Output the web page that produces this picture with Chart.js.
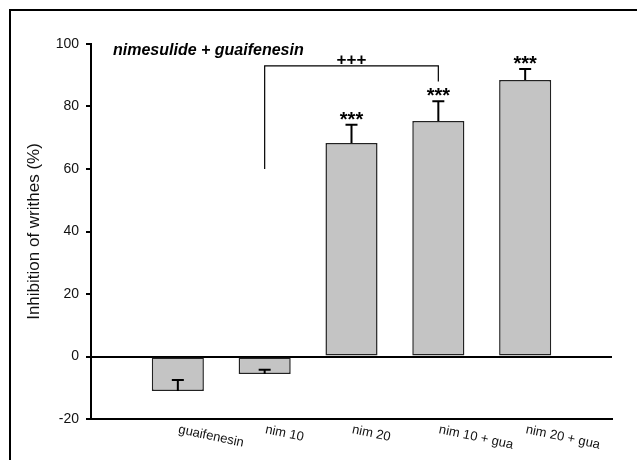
<!DOCTYPE html>
<html>
<head>
<meta charset="utf-8">
<script src="https://cdn.jsdelivr.net/npm/chart.js@4.4.1/dist/chart.umd.min.js"></script>
<style>
    html, body { margin: 0; padding: 0; background: #fff; }
    #wrap { position: relative; width: 637px; height: 460px; overflow: hidden; }
    #frame { position: absolute; left: 9px; top: 9px; width: 700px; height: 500px;
             border-left: 2px solid #000; border-top: 2px solid #000; }
    #c { position: absolute; left: 0; top: 0; }
</style>
</head>
<body>
<div id="wrap">
    <div id="frame"></div>
    <canvas id="c" width="637" height="460"></canvas>
</div>
<script>
// empty slots at both ends keep the bars one category in from the axes
var categories = ['', 'guaifenesin', 'nim 10', 'nim 20', 'nim 10 + gua', 'nim 20 + gua', ''];
var means = [null, -11, -5.6, 68.3, 75.4, 88.5, null];
var sems = [null, 3.5, 1.4, 5.9, 6.3, 3.5, null];
var stars = ['', '', '', '***', '***', '***', ''];
var yTicks = [-20, 0, 20, 40, 60, 80, 100];

// comparison bracket: nim 10 vs nim 10 + gua
var bracketIdx = [2, 4];
var bracketY = [60, 93, 88]; // left end, top, right end
var bracketLabel = '+++';
var panelTitle = 'nimesulide + guaifenesin';

var FONT = '"Liberation Sans", Arial, sans-serif';

var extras = {
    id: 'extras',
    afterDatasetsDraw: function (chart) {
        var ctx = chart.ctx;
        var x = chart.scales.x;
        var y = chart.scales.y;
        ctx.save();

        // error bars + stars
        ctx.strokeStyle = '#000';
        ctx.fillStyle = '#000';
        ctx.lineWidth = 2;
        means.forEach(function (m, i) {
            if (m === null) {
                return;
            }
            var cx = x.getPixelForValue(i);
            var y0 = y.getPixelForValue(m);
            var y1 = y.getPixelForValue(m + sems[i]);
            ctx.beginPath();
            ctx.moveTo(cx, y0);
            ctx.lineTo(cx, y1);
            ctx.moveTo(cx - 6, y1);
            ctx.lineTo(cx + 6, y1);
            ctx.stroke();
            if (stars[i]) {
                ctx.font = 'bold 20px ' + FONT;
                ctx.textAlign = 'center';
                ctx.textBaseline = 'alphabetic';
                ctx.fillText(stars[i], cx, y1 + 1);
            }
        });

        // bracket
        var bx0 = x.getPixelForValue(bracketIdx[0]);
        var bx1 = x.getPixelForValue(bracketIdx[1]);
        var by = y.getPixelForValue(bracketY[1]);
        ctx.lineWidth = 1.2;
        ctx.beginPath();
        ctx.moveTo(bx0, y.getPixelForValue(bracketY[0]));
        ctx.lineTo(bx0, by);
        ctx.lineTo(bx1, by);
        ctx.lineTo(bx1, y.getPixelForValue(bracketY[2]));
        ctx.stroke();
        ctx.font = 'bold 17px ' + FONT;
        ctx.textAlign = 'center';
        ctx.fillText(bracketLabel, (bx0 + bx1) / 2, by - 1);

        // panel title
        ctx.font = 'italic bold 16px ' + FONT;
        ctx.textAlign = 'left';
        ctx.textBaseline = 'middle';
        ctx.fillText(panelTitle, chart.chartArea.left + 22, chart.chartArea.top + 7);

        // slanted category labels
        ctx.font = '13px ' + FONT;
        ctx.fillStyle = '#111';
        ctx.textBaseline = 'alphabetic';
        categories.forEach(function (c, i) {
            if (!c) {
                return;
            }
            ctx.save();
            ctx.translate(x.getPixelForValue(i), chart.chartArea.bottom + 14);
            ctx.rotate(12 * Math.PI / 180);
            ctx.fillText(c, 0, 0);
            ctx.restore();
        });

        ctx.restore();
    }
};

new Chart(document.getElementById('c'), {
    type: 'bar',
    data: {
        labels: categories,
        datasets: [{
            data: means,
            backgroundColor: '#c4c4c4',
            borderColor: '#222',
            borderWidth: 1.5,
            borderSkipped: false,
            categoryPercentage: 1,
            barPercentage: 0.6
        }]
    },
    options: {
        responsive: false,
        animation: false,
        layout: {
            padding: { left: 0, top: 44, right: 25, bottom: 41 }
        },
        scales: {
            x: {
                offset: false,
                grid: { display: false, drawTicks: false },
                ticks: { display: false },
                border: { display: true, color: '#000', width: 2 }
            },
            y: {
                min: -20,
                max: 100,
                afterBuildTicks: function (scale) {
                    scale.ticks = yTicks.map(function (v) { return { value: v }; });
                },
                afterFit: function (scale) {
                    scale.width = 91;
                },
                grid: {
                    color: function (c) {
                        return c.tick && c.tick.value === 0 ? '#000' : 'rgba(0,0,0,0)';
                    },
                    lineWidth: 2,
                    tickColor: '#000',
                    tickLength: 5
                },
                border: { display: true, color: '#000', width: 2 },
                ticks: {
                    padding: 7,
                    color: '#111',
                    font: { family: FONT, size: 14 }
                },
                title: {
                    display: true,
                    text: 'Inhibition of writhes (%)',
                    color: '#111',
                    padding: { top: 24, bottom: 0 },
                    font: { family: FONT, size: 17 }
                }
            }
        },
        plugins: {
            legend: { display: false },
            tooltip: { enabled: false }
        }
    },
    plugins: [extras]
});
</script>
</body>
</html>
